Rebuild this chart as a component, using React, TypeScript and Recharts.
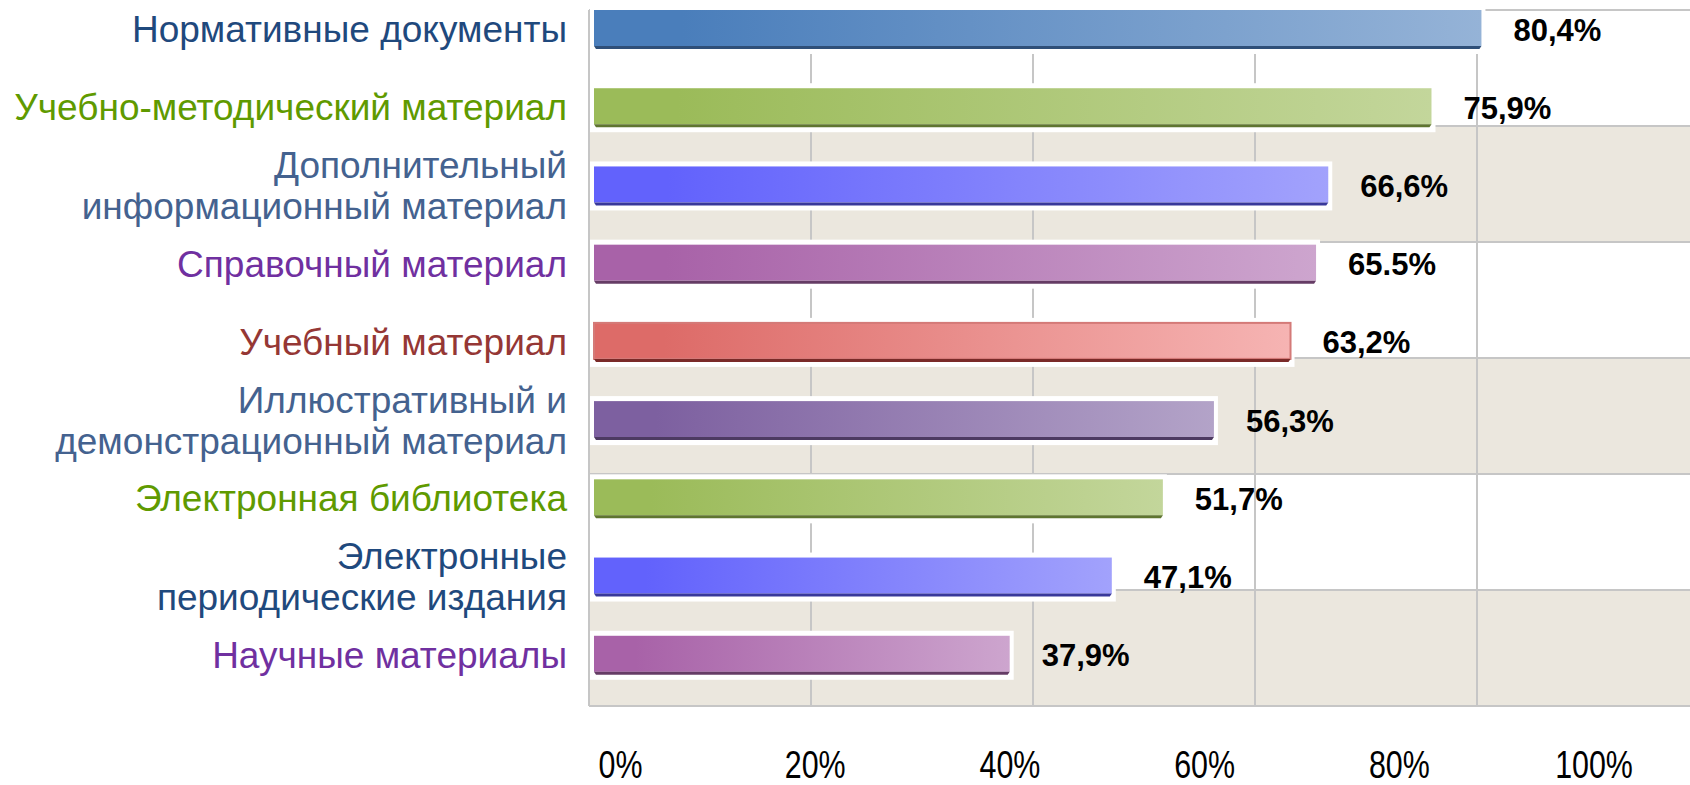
import React from "react";
import { BarChart, Bar, XAxis, YAxis, CartesianGrid, LabelList } from "recharts";

// категории сверху вниз
const categories = [
  "Нормативные документы",
  "Учебно-методический материал",
  "Дополнительный\nинформационный материал",
  "Справочный материал",
  "Учебный материал",
  "Иллюстративный и\nдемонстрационный материал",
  "Электронная библиотека",
  "Электронные\nпериодические издания",
  "Научные материалы",
];
const values = [80.4, 75.9, 66.6, 65.5, 63.2, 56.3, 51.7, 47.1, 37.9];
const valueLabels = ["80,4%", "75,9%", "66,6%", "65.5%", "63,2%", "56,3%", "51,7%", "47,1%", "37,9%"];
const percentTicks = [0, 20, 40, 60, 80, 100];
// горизонтальные полосы фона: 6 равных полос
const bandCount = 6;

// стили
const labelColors = ["#1f497d", "#5f9a00", "#44628f", "#7030a0", "#953735", "#44628f", "#5f9a00", "#1f497d", "#7030a0"];
const barFrom = ["#4a7ebb", "#9bbb59", "#6262fc", "#a862a8", "#dd6b68", "#7d60a0", "#9bbb59", "#6262fc", "#a862a8"];
const barTo = ["#95b3d7", "#c3d69b", "#a2a2fc", "#cda5ce", "#f6b4b3", "#b3a3c8", "#c3d69b", "#a2a2fc", "#cda5ce"];
const barEdge = ["#2f4f78", "#5f7530", "#38389a", "#653c65", "#7a2a28", "#4d3a62", "#5f7530", "#38389a", "#653c65"];

const data = categories.map((name, i) => ({ name, value: values[i], label: valueLabels[i] }));

const BarShape = (props: any) => {
  const { x, y, width, height, index } = props;
  const id = `barGrad${index}`;
  const edge = 3;
  const isRed = index === 4;
  return (
    <g>
      <defs>
        <linearGradient id={id} x1="0" y1="0" x2="1" y2="0">
          <stop offset="0%" stopColor={barFrom[index]} />
          <stop offset="10%" stopColor={barFrom[index]} />
          <stop offset="100%" stopColor={barTo[index]} />
        </linearGradient>
      </defs>
      <rect x={x + 1} y={y - 5} width={width + 3} height={height + 10} fill="#ffffff" />
      <rect
        x={x + 5}
        y={y}
        width={width - 5}
        height={height - edge}
        fill={`url(#${id})`}
        stroke={isRed ? "#d47a78" : "none"}
        strokeWidth={isRed ? 2 : 0}
      />
      <polygon
        points={`${x + 5},${y + height - edge} ${x + width},${y + height - edge} ${x + width - 2},${y + height} ${x + 7},${y + height}`}
        fill={barEdge[index]}
      />
    </g>
  );
};

const CategoryTick = (props: any) => {
  const { x, y, payload, index } = props;
  const lines = String(payload.value).split("\n");
  const lh = 41;
  return (
    <text
      textAnchor="end"
      fontFamily="'Liberation Sans', Arial, sans-serif"
      fontSize={37}
      fill={labelColors[index]}
    >
      {lines.map((line, i) => (
        <tspan key={i} x={x - 14} y={y + (i - (lines.length - 1) / 2) * lh} dy="0.35em">
          {line}
        </tspan>
      ))}
    </text>
  );
};

const PercentTick = (props: any) => {
  const { x, y, payload } = props;
  return (
    <g transform={`translate(${x},${y}) scale(0.8,1)`}>
      <text
        x={0}
        y={0}
        dy="0.71em"
        textAnchor="middle"
        fontFamily="'Liberation Sans', Arial, sans-serif"
        fontSize={38}
        fill="#000"
      >
        {`${payload.value}%`}
      </text>
    </g>
  );
};

export default function App() {
  return (
    <div
      style={{
        position: "absolute",
        left: 0,
        top: 0,
        width: 1690,
        height: 785,
        overflow: "hidden",
        background: "#ffffff",
      }}
    >
      <BarChart
        width={1700}
        height={785}
        data={data}
        layout="vertical"
        margin={{ top: 10, right: 1, bottom: 0, left: 0 }}
      >
        <XAxis xAxisId="v" type="number" domain={[0, 100]} ticks={percentTicks} hide />
        <XAxis
          xAxisId="lbl"
          type="number"
          domain={[-3.236, 110.786]}
          allowDataOverflow
          ticks={percentTicks}
          axisLine={false}
          tickLine={false}
          height={79}
          tickMargin={39}
          tick={<PercentTick />}
        />
        <YAxis
          yAxisId="cat"
          type="category"
          dataKey="name"
          width={589}
          axisLine={false}
          tickLine={false}
          interval={0}
          padding={{ top: -20, bottom: 12 }}
          tick={<CategoryTick />}
        />
        <CartesianGrid
          xAxisId="v"
          yAxisId="cat"
          stroke="#c6c6c6"
          strokeWidth={2}
          horizontalCoordinatesGenerator={({ offset }: any) =>
            Array.from({ length: bandCount + 1 }, (_, k) => offset.top + (offset.height * k) / bandCount)
          }
          horizontalFill={["#ffffff", "#ebe7de"]}
          fillOpacity={1}
        />
        <Bar xAxisId="v" yAxisId="cat" dataKey="value" barSize={39} shape={<BarShape />} isAnimationActive={false}>
          <LabelList
            dataKey="label"
            position="right"
            offset={32}
            fill="#000"
            fontSize={31}
            fontWeight="bold"
            fontFamily="'Liberation Sans', Arial, sans-serif"
          />
        </Bar>
      </BarChart>
    </div>
  );
}
